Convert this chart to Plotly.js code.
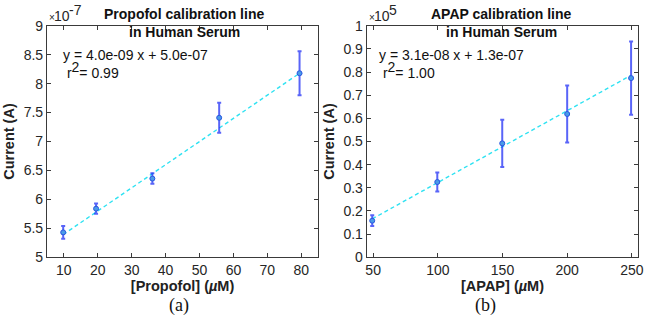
<!DOCTYPE html>
<html>
<head>
<meta charset="utf-8">
<script src="https://cdn.plot.ly/plotly-3.0.1.min.js"></script>
<style>
  html, body { margin: 0; padding: 0; background: #fff; }
  #chart { width: 647px; height: 322px; }
</style>
</head>
<body>
<div id="chart"></div>
<script>
// Propofol calibration (current in A vs concentration in µM)
const propofolConc = [9.8, 19.5, 36.1, 55.8, 79.5];
const propofolCurrent = [5.43e-7, 5.84e-7, 6.36e-7, 7.41e-7, 8.18e-7];
const propofolErr = [0.11e-7, 0.09e-7, 0.09e-7, 0.26e-7, 0.38e-7];
const propofolSlope = 4.0e-9;
const propofolIntercept = 5.0e-7;
const propofolR2 = '0.99';

// APAP calibration
const apapConc = [49.3, 99.6, 149.8, 200.0, 249.4];
const apapCurrent = [0.158e-5, 0.325e-5, 0.492e-5, 0.619e-5, 0.774e-5];
const apapErr = [0.023e-5, 0.041e-5, 0.102e-5, 0.123e-5, 0.158e-5];
const apapSlope = 3.1e-8;
const apapIntercept = 1.3e-7;
const apapR2 = '1.00';

// Axis ticks
const propofolYTicks = [5, 5.5, 6, 6.5, 7, 7.5, 8, 8.5, 9];
const propofolXTicks = [10, 20, 30, 40, 50, 60, 70, 80];
const apapYTicks = [0, 0.1, 0.2, 0.3, 0.4, 0.5, 0.6, 0.7, 0.8, 0.9, 1];
const apapXTicks = [50, 100, 150, 200, 250];

const FONT = 'Liberation Sans, Arial, Helvetica, sans-serif';
const BAR = 'rgba(25,40,245,0.72)';
const MARK_FILL = '#4a9be8';
const MARK_LINE = '#2a56e0';
const FIT = '#2fe2f2';

function fitLine(xs, m, b) {
  const x0 = Math.min(...xs), x1 = Math.max(...xs);
  return { x: [x0, x1], y: [m * x0 + b, m * x1 + b] };
}

function dataTrace(x, y, err, xa, ya) {
  return {
    x: x, y: y, xaxis: xa, yaxis: ya, type: 'scatter', mode: 'markers',
    marker: { symbol: 'circle', size: 5, color: MARK_FILL, line: { color: MARK_LINE, width: 1 } },
    error_y: { type: 'data', array: err, visible: true, color: BAR, thickness: 2, width: 2 },
    showlegend: false, hoverinfo: 'skip'
  };
}

function lineTrace(l, xa, ya) {
  return {
    x: l.x, y: l.y, xaxis: xa, yaxis: ya, type: 'scatter', mode: 'lines',
    line: { color: FIT, width: 1.4, dash: '4px,3px' },
    showlegend: false, hoverinfo: 'skip'
  };
}

function sci(v) {
  return v.toExponential(1).replace(/e([+-])(\d)$/, 'e$10$2');
}

const propLine = fitLine(propofolConc, propofolSlope, propofolIntercept);
const apapLine = fitLine(apapConc, apapSlope, apapIntercept);

const traces = [
  lineTrace(propLine, 'x', 'y'),
  dataTrace(propofolConc, propofolCurrent, propofolErr, 'x', 'y'),
  lineTrace(apapLine, 'x2', 'y2'),
  dataTrace(apapConc, apapCurrent, apapErr, 'x2', 'y2')
];

const axisBase = {
  showgrid: false, zeroline: false, showline: true, mirror: 'ticks',
  linecolor: '#3a3a3a', linewidth: 1,
  ticks: 'inside', ticklen: 4, tickcolor: '#3a3a3a', tickwidth: 1,
  tickfont: { family: FONT, size: 14, color: '#262626' },
  tickmode: 'array'
};

const titleFont = { family: FONT, size: 14, color: '#111' };
const axTitleFont = { family: FONT, size: 14.5, color: '#222' };
const textFont = { family: FONT, size: 14, color: '#111' };
const tickTxt = { family: FONT, size: 14, color: '#262626' };

function eqText(m, b, r2) {
  return 'y = ' + sci(m) + ' x + ' + sci(b) +
         '<br> r<sup><span style="font-size:14px">2</span></sup>= ' + r2;
}

// "×10^n" multiplier drawn above the top-left corner of a panel
function expLabels(x, power) {
  return [
    { xref: 'paper', yref: 'paper', x: x, y: 0.922, text: '×',
      showarrow: false, font: { family: FONT, size: 10, color: '#262626' }, xanchor: 'left', yanchor: 'bottom' },
    { xref: 'paper', yref: 'paper', x: x + 0.008, y: 0.918, text: '10',
      showarrow: false, font: tickTxt, xanchor: 'left', yanchor: 'bottom' },
    { xref: 'paper', yref: 'paper', x: x + 0.031, y: 0.938, text: power,
      showarrow: false, font: tickTxt, xanchor: 'left', yanchor: 'bottom' }
  ];
}

const layout = {
  width: 647, height: 322,
  margin: { l: 0, r: 0, t: 0, b: 0 },
  paper_bgcolor: '#fff', plot_bgcolor: '#fff',
  xaxis: Object.assign({}, axisBase, {
    domain: [0.0725, 0.4918], range: [5, 85], anchor: 'y',
    tickvals: propofolXTicks, ticktext: propofolXTicks.map(String),
    title: { text: '<b>[Propofol] (<i>µ</i>M)</b>', font: axTitleFont, standoff: 1 }
  }),
  yaxis: Object.assign({}, axisBase, {
    domain: [0.201, 0.920], range: [5e-7, 9e-7], anchor: 'x',
    tickvals: propofolYTicks.map(v => v * 1e-7), ticktext: propofolYTicks.map(String),
    title: { text: '<b>Current (A)</b>', font: axTitleFont, standoff: 5 }
  }),
  xaxis2: Object.assign({}, axisBase, {
    domain: [0.5667, 0.9866], range: [45, 255], anchor: 'y2',
    tickvals: apapXTicks, ticktext: apapXTicks.map(String),
    title: { text: '<b>[APAP] (<i>µ</i>M)</b>', font: axTitleFont, standoff: 1 }
  }),
  yaxis2: Object.assign({}, axisBase, {
    domain: [0.201, 0.920], range: [0, 1e-5], anchor: 'x2',
    tickvals: apapYTicks.map(v => v * 1e-5), ticktext: apapYTicks.map(String),
    title: { text: '<b>Current (A)</b>', font: axTitleFont, standoff: 5 }
  }),
  annotations: [
    // panel titles
    { xref: 'paper', yref: 'paper', x: 0.285, y: 0.957, text: '<b>Propofol calibration line</b>',
      showarrow: false, font: titleFont, xanchor: 'center', yanchor: 'middle' },
    { xref: 'paper', yref: 'paper', x: 0.285, y: 0.902, text: '<b>in Human Serum</b>',
      showarrow: false, font: titleFont, xanchor: 'center', yanchor: 'middle' },
    { xref: 'paper', yref: 'paper', x: 0.775, y: 0.957, text: '<b>APAP calibration line</b>',
      showarrow: false, font: titleFont, xanchor: 'center', yanchor: 'middle' },
    { xref: 'paper', yref: 'paper', x: 0.775, y: 0.902, text: '<b>in Human Serum</b>',
      showarrow: false, font: titleFont, xanchor: 'center', yanchor: 'middle' },
    // exponent labels
    ...expLabels(0.0725, '-7'),
    ...expLabels(0.5667, '5'),
    // regression equations
    { xref: 'paper', yref: 'paper', x: 0.094, y: 0.80,
      text: eqText(propofolSlope, propofolIntercept, propofolR2),
      showarrow: false, align: 'left', font: textFont, xanchor: 'left', yanchor: 'middle' },
    { xref: 'paper', yref: 'paper', x: 0.583, y: 0.80,
      text: eqText(apapSlope, apapIntercept, apapR2),
      showarrow: false, align: 'left', font: textFont, xanchor: 'left', yanchor: 'middle' },
    // panel letters
    { xref: 'paper', yref: 'paper', x: 0.276, y: 0.052, text: '(a)',
      showarrow: false, font: { family: 'Liberation Serif, Times New Roman, serif', size: 18, color: '#111' }, xanchor: 'center', yanchor: 'middle' },
    { xref: 'paper', yref: 'paper', x: 0.750, y: 0.052, text: '(b)',
      showarrow: false, font: { family: 'Liberation Serif, Times New Roman, serif', size: 18, color: '#111' }, xanchor: 'center', yanchor: 'middle' }
  ]
};

Plotly.newPlot('chart', traces, layout, { displayModeBar: false, staticPlot: true });
</script>
</body>
</html>
